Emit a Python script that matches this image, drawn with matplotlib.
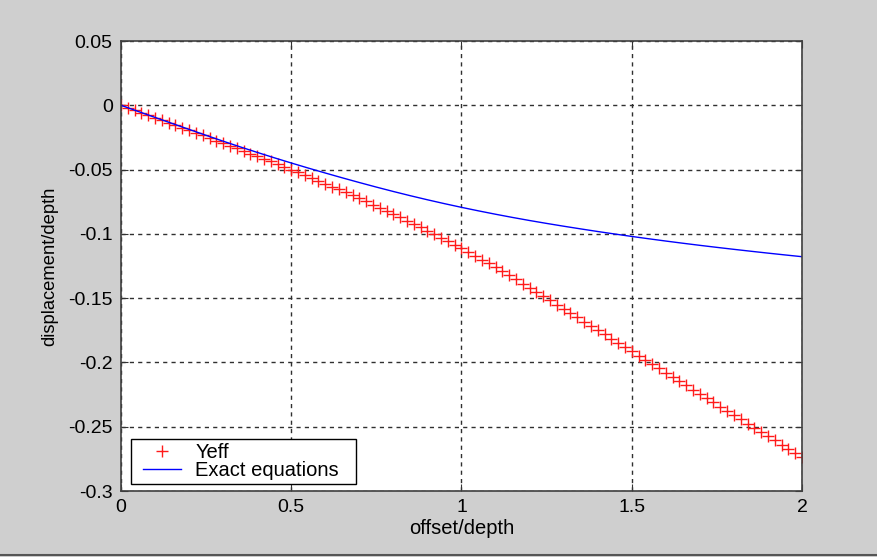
import matplotlib
matplotlib.use("Agg")
import matplotlib.pyplot as plt
from matplotlib.lines import Line2D
from matplotlib.patches import Rectangle
import numpy as np

# Datos: marcadores "Yeff" cada 0.02
offset_yeff = [0.00, 0.02, 0.04, 0.06, 0.08, 0.10, 0.12, 0.14, 0.16, 0.18,
               0.20, 0.22, 0.24, 0.26, 0.28, 0.30, 0.32, 0.34, 0.36, 0.38,
               0.40, 0.42, 0.44, 0.46, 0.48, 0.50, 0.52, 0.54, 0.56, 0.58,
               0.60, 0.62, 0.64, 0.66, 0.68, 0.70, 0.72, 0.74, 0.76, 0.78,
               0.80, 0.82, 0.84, 0.86, 0.88, 0.90, 0.92, 0.94, 0.96, 0.98,
               1.00, 1.02, 1.04, 1.06, 1.08, 1.10, 1.12, 1.14, 1.16, 1.18,
               1.20, 1.22, 1.24, 1.26, 1.28, 1.30, 1.32, 1.34, 1.36, 1.38,
               1.40, 1.42, 1.44, 1.46, 1.48, 1.50, 1.52, 1.54, 1.56, 1.58,
               1.60, 1.62, 1.64, 1.66, 1.68, 1.70, 1.72, 1.74, 1.76, 1.78,
               1.80, 1.82, 1.84, 1.86, 1.88, 1.90, 1.92, 1.94, 1.96, 1.98,
               2.00]
disp_yeff = [0.0, -0.00194, -0.00388, -0.00582, -0.00776, -0.00971,
             -0.01166, -0.01361, -0.01556, -0.01752, -0.01948, -0.02145,
             -0.02343, -0.02541, -0.0274, -0.0294, -0.03141, -0.03343,
             -0.03546, -0.0375, -0.03956, -0.04163, -0.04371, -0.04581,
             -0.04792, -0.05005, -0.0522, -0.05436, -0.05655, -0.05875,
             -0.06097, -0.06322, -0.06549, -0.06778, -0.0701, -0.07244,
             -0.07481, -0.07721, -0.07963, -0.08208, -0.08457, -0.08708,
             -0.08963, -0.0922, -0.09481, -0.09746, -0.10014, -0.10285,
             -0.1056, -0.1084, -0.11123, -0.1141, -0.11701, -0.11996,
             -0.12296, -0.126, -0.12909, -0.13222, -0.1354, -0.13862,
             -0.1419, -0.1452, -0.1485, -0.1518, -0.1551, -0.1584,
             -0.1617, -0.1650, -0.1683, -0.1716, -0.1749, -0.1782,
             -0.1815, -0.1848, -0.1881, -0.1914, -0.1947, -0.1980,
             -0.2013, -0.2046, -0.2079, -0.2112, -0.2145, -0.2178,
             -0.2211, -0.2244, -0.2277, -0.2310, -0.2343, -0.2376,
             -0.2409, -0.2442, -0.2475, -0.2508, -0.2541, -0.2574,
             -0.2607, -0.2640, -0.2673, -0.2706, -0.2739]

# Curva "Exact equations" cada 0.05
offset_exact = [0.00, 0.05, 0.10, 0.15, 0.20, 0.25, 0.30, 0.35, 0.40, 0.45,
                0.50, 0.55, 0.60, 0.65, 0.70, 0.75, 0.80, 0.85, 0.90, 0.95,
                1.00, 1.05, 1.10, 1.15, 1.20, 1.25, 1.30, 1.35, 1.40, 1.45,
                1.50, 1.55, 1.60, 1.65, 1.70, 1.75, 1.80, 1.85, 1.90, 1.95,
                2.00]
disp_exact = [0.0, -0.00474, -0.00944, -0.01412, -0.01876, -0.02338,
              -0.02792, -0.03234, -0.03664, -0.04082, -0.04488, -0.04883,
              -0.05268, -0.05643, -0.06008, -0.06363, -0.06706, -0.07035,
              -0.0735, -0.07651, -0.07938, -0.08212, -0.08474, -0.08724,
              -0.08962, -0.09188, -0.09405, -0.09614, -0.09817, -0.10012,
              -0.10201, -0.10383, -0.10559, -0.10729, -0.10893, -0.11051,
              -0.11204, -0.11353, -0.11498, -0.11639, -0.11776]

x_ticks = [0, 0.5, 1, 1.5, 2]
x_tick_labels = ["0", "0.5", "1", "1.5", "2"]
y_ticks = [0.05, 0, -0.05, -0.1, -0.15, -0.2, -0.25, -0.3]
y_tick_labels = ["0.05", "0", "-0.05", "-0.1", "-0.15", "-0.2", "-0.25", "-0.3"]

plt.rcParams["font.family"] = ["Liberation Sans", "DejaVu Sans"]
plt.rcParams["axes.unicode_minus"] = False

fig = plt.figure(figsize=(8.78, 5.57), dpi=100, facecolor="#cfcfcf")
ax = fig.add_axes([121/878, 1-491/557, 681/878, 450/557])
ax.set_facecolor("white")

# Ploteo de los datos
ax.plot(offset_yeff, disp_yeff,
        linestyle="none",
        marker="+",
        markersize=8,
        markeredgewidth=1.0,
        color="#ff1a1a",
        label="Yeff")
ax.plot(offset_exact, disp_exact,
        color="#0000ff",
        linewidth=1.0,
        label="Exact equations")

# Limites y etiquetas
ax.set_xlim(0, 2)
ax.set_ylim(-0.3, 0.05)
ax.set_xticks(x_ticks)
ax.set_xticklabels(x_tick_labels)
ax.set_yticks(y_ticks)
ax.set_yticklabels(y_tick_labels)
ax.tick_params(direction="in", top=True, right=True, length=5,
               labelsize=14, color="#333333", pad=6)
ax.set_xlabel("offset/depth", fontsize=14.5, labelpad=2)
ax.set_ylabel("displacement/depth", fontsize=13.2, labelpad=7)
for spine in ax.spines.values():
    spine.set_color("#404040")
    spine.set_linewidth(1.2)

# Creación del grid
ax.grid(True, color="#303030", linestyle=(0, (3, 3)), linewidth=1.0)
ax.set_axisbelow(True)

# Caja de la leyenda (más ancha que el texto, como en MATLAB)
ax.add_patch(Rectangle((10/681, 7/450), 225/681, 45/450,
                       transform=ax.transAxes,
                       facecolor="white",
                       edgecolor="black",
                       linewidth=1.0,
                       zorder=4.9))
leg = ax.legend(loc="lower left",
                bbox_to_anchor=(18/681, 7/450),
                borderaxespad=0,
                frameon=False,
                fontsize=14.5,
                handlelength=1.9,
                handletextpad=0.7,
                labelspacing=-0.05,
                borderpad=0.2)
leg.set_zorder(5)

# Borde inferior de la ventana
fig.add_artist(Line2D([0, 1], [2/557, 2/557], color="#555555",
                      linewidth=1.5, transform=fig.transFigure))

fig.savefig("out.png", dpi=100, facecolor=fig.get_facecolor())
